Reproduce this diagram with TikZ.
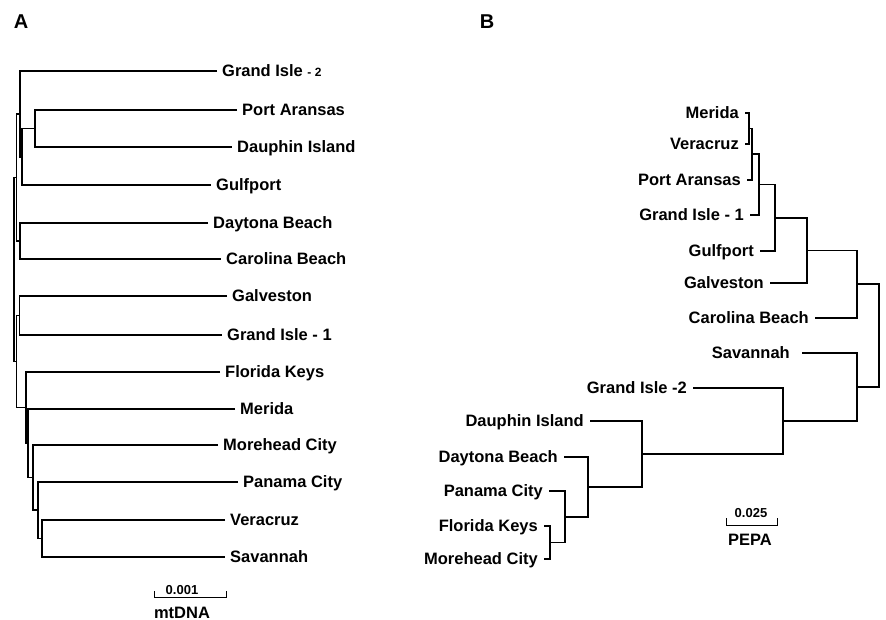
\documentclass[tikz,border=0pt]{standalone}
\usepackage{fontspec}
\setmainfont{Liberation Sans}
\begin{document}
\begin{tikzpicture}[x=1pt,y=-1pt,
  br/.style={line width=1.3pt, line join=miter},
  lf/.style={inner ysep=0pt, inner xsep=5pt, text height=11.8pt, text depth=0pt,
             font=\fontsize{16.5}{18}\selectfont\bfseries},
  leafA/.style={lf, anchor=west},
  leafB/.style={lf, anchor=east, inner xsep=6pt},
  scalenum/.style={anchor=base, inner sep=0pt, font=\fontsize{13}{15}\selectfont\bfseries},
  scalename/.style={anchor=base, inner sep=0pt, font=\fontsize{16.5}{18}\selectfont\bfseries},
  panel/.style={anchor=base, inner sep=0pt, font=\fontsize{20}{22}\selectfont\bfseries}]
\useasboundingbox (0,0) rectangle (886,620);

% panel letters
\node[panel] (pA) at (21,29) {A};
\node[panel] (pB) at (487,29) {B};

% ---------------- Tree A ----------------
\node[leafA] (a1) at (217,71) {Grand Isle {\fontsize{12}{14}\selectfont - 2}};
\node[leafA] (a2) at (237,110) {Port Aransas};
\node[leafA] (a3) at (232,147) {Dauphin Island};
\node[leafA] (a4) at (211,185) {Gulfport};
\node[leafA] (a5) at (208,223) {Daytona Beach};
\node[leafA] (a6) at (221,259) {Carolina Beach};
\node[leafA] (a7) at (227,296) {Galveston};
\node[leafA] (a8) at (222,335) {Grand Isle - 1};
\node[leafA] (a9) at (220,372) {Florida Keys};
\node[leafA] (a10) at (235,409) {Merida};
\node[leafA] (a11) at (218,445) {Morehead City};
\node[leafA] (a12) at (238,482) {Panama City};
\node[leafA] (a13) at (225,520) {Veracruz};
\node[leafA] (a14) at (225,557) {Savannah};

\coordinate (pd) at (35,128.5);
\coordinate (pdg) at (22,157);
\coordinate (p1) at (20,114);
\coordinate (p2) at (20,241);
\coordinate (u) at (16.7,177.5);
\coordinate (p3) at (19.5,315.5);
\coordinate (vs) at (42,538.5);
\coordinate (l4) at (38,510);
\coordinate (l3) at (33,477.5);
\coordinate (l2) at (28,443);
\coordinate (l1) at (26,407.5);
\coordinate (lo) at (16.7,361.5);
\coordinate (ra) at (14,269.5);

\draw[br] (a2.west) -| (pd) |- (a3.west);
\draw[br] (pd) -| (pdg) |- (a4.west);
\draw[br] (a1.west) -| (p1) |- (pdg);
\draw[br] (a5.west) -| (p2) |- (a6.west);
\draw[br] (p1) -| (u) |- (p2);
\draw[br] (a7.west) -| (p3) |- (a8.west);
\draw[br] (a13.west) -| (vs) |- (a14.west);
\draw[br] (a12.west) -| (l4) |- (vs);
\draw[br] (a11.west) -| (l3) |- (l4);
\draw[br] (a10.west) -| (l2) |- (l3);
\draw[br] (a9.west) -| (l1) |- (l2);
\draw[br] (p3) -| (lo) |- (l1);
\draw[br] (u) -| (ra) |- (lo);

% scale bar A
\coordinate (sa1) at (154,591);
\coordinate (sa2) at (226,591);
\draw[line width=1pt] (sa1) -- ++(0,6) -| (sa2);
\node[scalenum] (sna) at (182,594) {0.001};
\node[scalename] (mta) at (182,618) {mtDNA};

% ---------------- Tree B ----------------
\node[leafB] (b1) at (745,113) {Merida};
\node[leafB] (b2) at (745,144) {Veracruz};
\node[leafB] (b3) at (747,180) {Port Aransas};
\node[leafB] (b4) at (750,215) {Grand Isle - 1};
\node[leafB] (b5) at (760,251) {Gulfport};
\node[leafB] (b6) at (770,283) {Galveston};
\node[leafB] (b7) at (815,318) {Carolina Beach};
\node[leafB, inner xsep=12pt] (b8) at (802,353) {Savannah};
\node[leafB] (b9) at (693,388) {Grand Isle -2};
\node[leafB] (b10) at (590,421) {Dauphin Island};
\node[leafB] (b11) at (564,457) {Daytona Beach};
\node[leafB] (b12) at (549,491) {Panama City};
\node[leafB] (b13) at (544,526) {Florida Keys};
\node[leafB] (b14) at (544,559) {Morehead City};

\coordinate (mv) at (749,128.5);
\coordinate (mvp) at (752,154);
\coordinate (mvpg) at (759,184.5);
\coordinate (gf) at (775,218);
\coordinate (gv) at (807,250.5);
\coordinate (cb) at (857,284);
\coordinate (fm) at (550,542.5);
\coordinate (pfm) at (565,517);
\coordinate (dpfm) at (588,487);
\coordinate (dp) at (642,454);
\coordinate (g2) at (783,421);
\coordinate (sv) at (857,387);
\coordinate (rb) at (879,335.5);

\draw[br] (b1.east) -| (mv) |- (b2.east);
\draw[br] (mv) -| (mvp) |- (b3.east);
\draw[br] (mvp) -| (mvpg) |- (b4.east);
\draw[br] (mvpg) -| (gf) |- (b5.east);
\draw[br] (gf) -| (gv) |- (b6.east);
\draw[br] (gv) -| (cb) |- (b7.east);
\draw[br] (b13.east) -| (fm) |- (b14.east);
\draw[br] (b12.east) -| (pfm) |- (fm);
\draw[br] (b11.east) -| (dpfm) |- (pfm);
\draw[br] (b10.east) -| (dp) |- (dpfm);
\draw[br] (b9.east) -| (g2) |- (dp);
\draw[br] (b8.east) -| (sv) |- (g2);
\draw[br, line width=1.8pt] (cb) -| (rb) |- (sv);

% scale bar B
\coordinate (sb1) at (726,518);
\coordinate (sb2) at (777,518);
\draw[line width=1pt] (sb1) -- ++(0,7) -| (sb2);
\node[scalenum] (snb) at (751,517) {0.025};
\node[scalename] (peb) at (750,545) {PEPA};
\end{tikzpicture}
\end{document}
